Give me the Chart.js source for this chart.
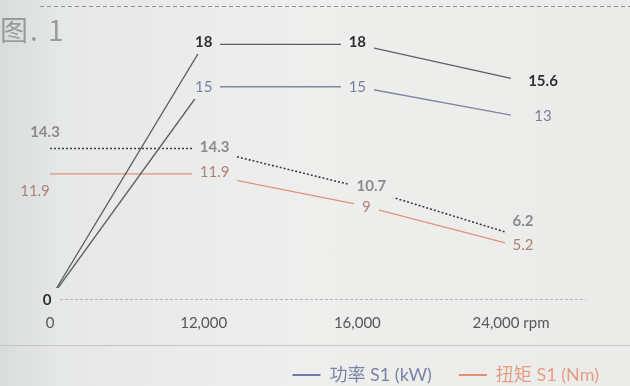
<!DOCTYPE html>
<html>
<head>
<meta charset="utf-8">
<script src="https://cdn.jsdelivr.net/npm/chart.js@4.4.1/dist/chart.umd.min.js"></script>
<style>
  html, body { margin: 0; padding: 0; }
  body {
    width: 630px; height: 386px; overflow: hidden; position: relative;
    background: linear-gradient(to right, #d9dcdc 0px, #e6e8e7 60px, #eeefed 300px, #ebebe9 630px);
  }
  #wrap { position: absolute; left: 0; top: 0; width: 630px; height: 386px; }
  #title {
    position: absolute; left: 0; top: 9px; letter-spacing: 2px;
    font: 28px "Noto Sans CJK SC", sans-serif; color: #9a9c9c;
  }
</style>
</head>
<body>
<div id="wrap"><canvas id="myChart" width="630" height="386"></canvas></div>
<div id="title">图. 1</div>
<script>
const categories = ['0', '12,000', '16,000', '24,000 rpm'];
const peakPower = [0, 18, 18, 15.6];
const powerS1 = [0, 15, 15, 13];
const peakTorque = [14.3, 14.3, 10.7, 6.2];
const torqueS1 = [11.9, 11.9, 9, 5.2];

// data labels sit on the points and hide the line under them (like the original)
const pointLabels = {
    id: 'pointLabels',
    beforeDatasetsDraw(chart) {
        const { ctx, chartArea } = chart;
        ctx.save();
        ctx.strokeStyle = '#b3b4b3';
        ctx.lineWidth = 1;
        ctx.setLineDash([3, 2]);
        ctx.beginPath();
        ctx.moveTo(chartArea.left, chartArea.bottom + 0.5);
        ctx.lineTo(chartArea.right + 75, chartArea.bottom + 0.5);
        ctx.stroke();
        ctx.restore();
    },
    afterDatasetsDraw(chart) {
        const ctx = chart.ctx;
        ctx.save();
        ctx.textAlign = 'center';
        ctx.textBaseline = 'middle';
        chart.data.datasets.forEach((ds, i) => {
            const meta = chart.getDatasetMeta(i);
            meta.data.forEach((pt, j) => {
                const off = ds.labelOffsets[j];
                if (!off) return;
                const x = pt.x + off[0];
                const y = pt.y + off[1];
                const text = String(ds.data[j]);
                ctx.font = ds.labelFont;
                const w = ctx.measureText(text).width;
                ctx.clearRect(x - w / 2 - 8, y - 12, w + 16, 24);
                ctx.fillStyle = ds.labelColor;
                ctx.fillText(text, x, y);
            });
        });
        ctx.restore();
    }
};

new Chart(document.getElementById('myChart'), {
    type: 'line',
    data: {
        labels: categories,
        datasets: [
            {
                label: '峰值功率 (kW)',
                data: peakPower,
                yAxisID: 'y',
                borderColor: '#5d5e60',
                borderWidth: 1.3,
                labelColor: '#2f3030',
                labelFont: 'bold 15px Lato',
                labelOffsets: [[-3, 1], [0, -2], [0, -2], [32, 3]],
            },
            {
                label: '功率 S1 (kW)',
                data: powerS1,
                yAxisID: 'y',
                borderColor: '#7f86a2',
                borderWidth: 1.3,
                segment: { borderColor: c => c.p0DataIndex === 0 ? '#5f6062' : undefined },
                labelColor: '#7880a0',
                labelFont: '15px Lato',
                labelOffsets: [null, [0, 0], [0, 0], [32, 1]],
            },
            {
                label: '峰值扭矩 (Nm)',
                data: peakTorque,
                yAxisID: 'y2',
                borderColor: '#3e3f40',
                borderWidth: 1.6,
                borderDash: [2, 2],
                labelColor: '#8a8b8b',
                labelFont: 'bold 15px Lato',
                labelOffsets: [[-5, -16], [11, -1], [14, 0], [12, -13]],
            },
            {
                label: '扭矩 S1 (Nm)',
                data: torqueS1,
                yAxisID: 'y2',
                borderColor: '#e2917e',
                borderWidth: 1.3,
                labelColor: '#ad8278',
                labelFont: '15px Lato',
                labelOffsets: [[-15, 17], [11, -2], [9, 3], [12, 1]],
            }
        ]
    },
    options: {
        responsive: false,
        animation: false,
        layout: { padding: { left: 50, right: 4, top: 16, bottom: -8 } },
        elements: { point: { radius: 0 }, line: { tension: 0 } },
        scales: {
            x: {
                offset: false,
                grid: { display: false },
                border: { display: false },
                ticks: {
                    color: '#565757',
                    font: { family: 'Lato', size: 15 },
                    padding: 7,
                    maxRotation: 0,
                    autoSkip: false
                }
            },
            y: { display: false, min: 0, max: 20 },
            y2: {
                position: 'right',
                min: 0,
                max: 26.9,
                grid: { display: false },
                border: { display: false },
                ticks: { display: false },
                afterFit(scale) { scale.width = 115; }
            }
        },
        plugins: {
            tooltip: { enabled: false },
            legend: {
                position: 'bottom',
                align: 'end',
                labels: {
                    usePointStyle: true,
                    pointStyle: 'line',
                    pointStyleWidth: 28,
                    padding: 27,
                    font: { family: "Lato, 'Noto Sans CJK SC'", size: 18 },
                    filter: item => item.datasetIndex === 1 || item.datasetIndex === 3,
                    generateLabels(chart) {
                        const items = Chart.defaults.plugins.legend.labels.generateLabels(chart);
                        const legendColors = ['#2f3030', '#6f7aa6', '#3e3f40', '#e98c6c'];
                        const textColors = ['#2f3030', '#7a83a6', '#3e3f40', '#e69d85'];
                        return items.map(it => Object.assign(it, {
                            strokeStyle: legendColors[it.datasetIndex],
                            fontColor: textColors[it.datasetIndex],
                            lineWidth: 2,
                            lineDash: [],
                            pointStyle: 'line'
                        }));
                    }
                }
            }
        }
    },
    plugins: [pointLabels, {
        id: 'frame',
        beforeDraw(chart) {
            const ctx = chart.ctx;
            ctx.save();
            ctx.lineWidth = 1;
            ctx.strokeStyle = '#8e8f90';
            ctx.setLineDash([4, 3]);
            ctx.beginPath();
            ctx.moveTo(40, 6.5);
            ctx.lineTo(630, 6.5);
            ctx.stroke();
            ctx.setLineDash([]);
            ctx.strokeStyle = '#c4c5c4';
            ctx.beginPath();
            ctx.moveTo(0, 345.5);
            ctx.lineTo(630, 345.5);
            ctx.stroke();
            ctx.restore();
        }
    }]
});
</script>
</body>
</html>
